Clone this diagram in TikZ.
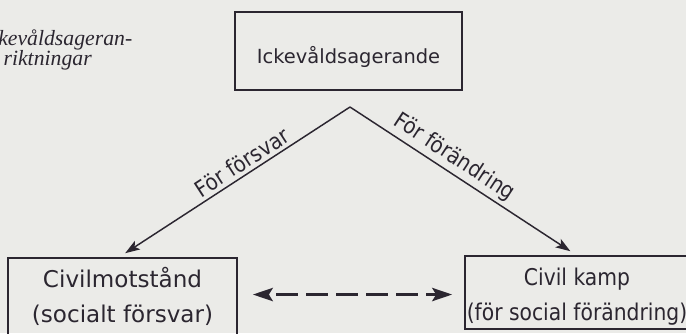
\documentclass[tikz,border=0pt]{standalone}
\usepackage{fontspec}
\setmainfont{DejaVu Sans}
\newfontfamily\capfont{Liberation Serif}
\newfontfamily\narrowfont[FakeStretch=0.88]{DejaVu Sans}
\usepackage{xcolor}
\usetikzlibrary{arrows.meta}
\definecolor{ink}{HTML}{2B2630}
\definecolor{paper}{HTML}{EBEBE8}

\begin{document}
\begin{tikzpicture}
[every node/.style={inner sep=0pt, text=ink},
 box/.style={draw=ink, line width=1.3pt, align=center},
 link/.style={line width=1.1pt, draw=ink, -{Stealth[length=11pt, width=7.5pt, inset=2.5pt]}},
 dasharrow/.style={line width=1.8pt, draw=ink, dash pattern=on 16.5pt off 6pt, dash phase=16.5pt,
   {Stealth[length=15pt, width=10pt, inset=3pt]}-{Stealth[length=15pt, width=10pt, inset=3pt]}},
 tag/.style={font=\fontsize{16.8}{18}\selectfont\narrowfont}]
\useasboundingbox (0pt, 0pt) rectangle (514.5pt, -249.75pt);
\fill [paper] (0pt, 0pt) rectangle (514.5pt, -249.75pt);
% cut caption at the left edge
\node (capa) [anchor=base west, font=\fontsize{16.3}{15}\selectfont\capfont\itshape] at (-1.5pt, -33.75pt) {kevåldsageran-};
\node (capb) [anchor=base west, font=\fontsize{16.3}{15}\selectfont\capfont\itshape] at (2.5pt, -48.75pt) {riktningar};
% boxes
\node (ickev) [box, minimum width=170.25pt, minimum height=58.5pt, text height=18pt, text depth=0pt, font=\fontsize{14.6}{17}\selectfont] at (261.4pt, -38.25pt) {Ickevåldsagerande};
\node (civ) [box, minimum width=171.75pt, minimum height=57.75pt, font=\fontsize{17.3}{26.25}\selectfont] at (91.9pt, -222.4pt) {Civilmotstånd\\(socialt försvar)};
\node (kamp) [box, minimum width=168pt, minimum height=54.75pt, font=\fontsize{17.3}{26.25}\selectfont\narrowfont] at (432.75pt, -219.4pt) {\rule{0pt}{19pt}Civil kamp\\(för social förändring)};
\coordinate (apex) at (262.5pt, -80.25pt);
% arrows
\draw [link] (apex) -- node [tag, sloped, above=2.5pt, pos=0.45] {För försvar} ([shift={(2pt,3pt)}]civ.north);
\draw [link] (apex) -- node [tag, sloped, above=2.5pt, pos=0.435] {För förändring} ([shift={(-5pt,3pt)}]kamp.north);
\draw [dasharrow] ([xshift=11.25pt, yshift=1.5pt]civ.east) -- ([xshift=-9pt, yshift=-1.5pt]kamp.west);
\end{tikzpicture}
\end{document}
